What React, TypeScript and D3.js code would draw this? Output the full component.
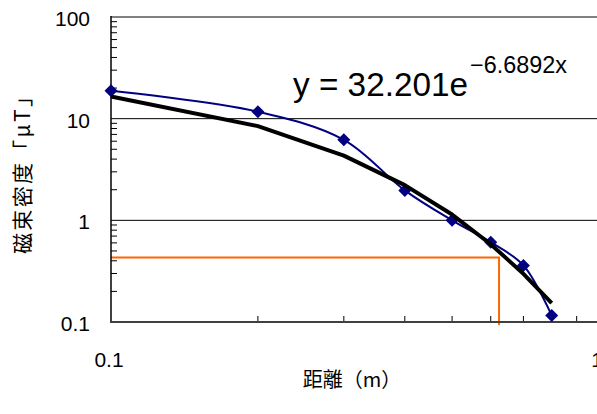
import React from "react";
import * as d3 from "d3";

const distances = [0.1, 0.2, 0.3, 0.4, 0.5, 0.6, 0.7, 0.8];
const measured = [18.8, 11.7, 6.2, 1.97, 1.0, 0.61, 0.36, 0.116];
const trendValues = [16.5, 8.45, 4.33, 2.22, 1.14, 0.582, 0.298, 0.153];
const yTicks = [0.1, 1, 10, 100];
const yTickLabels = ["0.1", "1", "10", "100"];
const xTicks = [0.1, 1];
const xTickLabels = ["0.1", "1"];
const guideX = 0.624;
const guideY = 0.43;
const equationMain = "y = 32.201e";
const equationExp = "\u22126.6892x";

const W = 597;
const H = 414;
const LEFT = 111;
const RIGHT = 599;
const TOP = 17;
const BOTTOM = 322;

const NUM_FONT = "'Liberation Sans', Arial, sans-serif";
const JP_FONT = "'Noto Sans CJK JP', sans-serif";

export default function App() {
  const x = d3.scaleLog().domain([0.1, 1]).range([LEFT, RIGHT]);
  const y = d3.scaleLog().domain([0.1, 100]).range([BOTTOM, TOP]);

  const pts: [number, number][] = distances.map((d, i) => [x(d), y(measured[i])]);
  const smooth = d3.line().curve(d3.curveCatmullRom.alpha(0.5))(pts) || "";
  const trend = d3
    .line<number>()
    .x((_, i) => x(distances[i]))
    .y((v) => y(v))(trendValues) || "";

  const yMinor: number[] = [];
  for (const dec of [0.1, 1, 10]) for (let k = 2; k <= 9; k++) yMinor.push(dec * k);
  const xMinor: number[] = [];
  for (let k = 2; k <= 9; k++) xMinor.push(0.1 * k);

  const diamond = (cx: number, cy: number, r: number) =>
    `M${cx},${cy - r}L${cx + r},${cy}L${cx},${cy + r}L${cx - r},${cy}Z`;

  return (
    <svg
      width={W}
      height={H}
      style={{ position: "absolute", left: 0, top: 0, background: "#fff" }}
    >
      <rect x={0} y={0} width={W} height={H} fill="#fff" />
      {/* major gridlines */}
      {[1, 10].map((v) => (
        <line key={v} x1={LEFT} x2={W} y1={y(v)} y2={y(v)} stroke="#000" strokeWidth={1} />
      ))}
      {/* top border */}
      <line x1={LEFT} x2={W} y1={TOP} y2={TOP} stroke="#808080" strokeWidth={2} />
      {/* y minor ticks */}
      {yMinor.map((v, i) => (
        <line key={i} x1={LEFT} x2={LEFT + 6} y1={y(v)} y2={y(v)} stroke="#000" strokeWidth={1} />
      ))}
      {/* x minor ticks */}
      {xMinor.map((v, i) => (
        <line key={i} x1={x(v)} x2={x(v)} y1={BOTTOM} y2={BOTTOM - 6} stroke="#000" strokeWidth={1} />
      ))}
      {/* orange guide lines */}
      <path
        d={`M${LEFT},${y(guideY)}L${x(guideX)},${y(guideY)}L${x(guideX)},${BOTTOM + 3}`}
        fill="none"
        stroke="#ff6600"
        strokeWidth={2}
      />
      {/* axes */}
      <line x1={LEFT} x2={LEFT} y1={TOP - 1} y2={BOTTOM} stroke="#000" strokeWidth={1.5} />
      <line x1={LEFT - 1} x2={W} y1={BOTTOM} y2={BOTTOM} stroke="#404040" strokeWidth={2} />
      {/* measured series */}
      <path d={smooth} fill="none" stroke="#000080" strokeWidth={2} />
      {pts.map(([px, py], i) => (
        <path key={i} d={diamond(px, py, 6.5)} fill="#000080" />
      ))}
      {/* trendline */}
      <path d={trend} fill="none" stroke="#000" strokeWidth={4} strokeLinejoin="round" />
      {/* y tick labels */}
      {yTicks.map((v, i) => (
        <text
          key={v}
          x={90}
          y={y(v) + 9}
          textAnchor="end"
          fontFamily={NUM_FONT}
          fontSize={21}
          fill="#000"
        >
          {yTickLabels[i]}
        </text>
      ))}
      {/* x tick labels */}
      {xTicks.map((v, i) => (
        <text
          key={v}
          x={x(v) - 2}
          y={367}
          textAnchor="middle"
          fontFamily={NUM_FONT}
          fontSize={21}
          fill="#000"
        >
          {xTickLabels[i]}
        </text>
      ))}
      {/* equation */}
      <text
        x={293}
        y={96}
        fontFamily={NUM_FONT}
        fontSize={34}
        textLength={175}
        lengthAdjust="spacingAndGlyphs"
        fill="#000"
      >
        {equationMain}
      </text>
      <text
        x={470}
        y={73}
        fontFamily={NUM_FONT}
        fontSize={23}
        textLength={97}
        lengthAdjust="spacingAndGlyphs"
        fill="#000"
      >
        {equationExp}
      </text>
      {/* axis titles */}
      <text
        x={352}
        y={387}
        textAnchor="middle"
        fontFamily={JP_FONT}
        fontSize={20}
        fill="#000"
      >
        距離（m）
      </text>
      <text
        transform="translate(30,170) rotate(-90)"
        textAnchor="middle"
        fontFamily={JP_FONT}
        fontSize={21}
        textLength={168}
        lengthAdjust="spacing"
        fill="#000"
      >
        磁束密度「μT」
      </text>
    </svg>
  );
}
